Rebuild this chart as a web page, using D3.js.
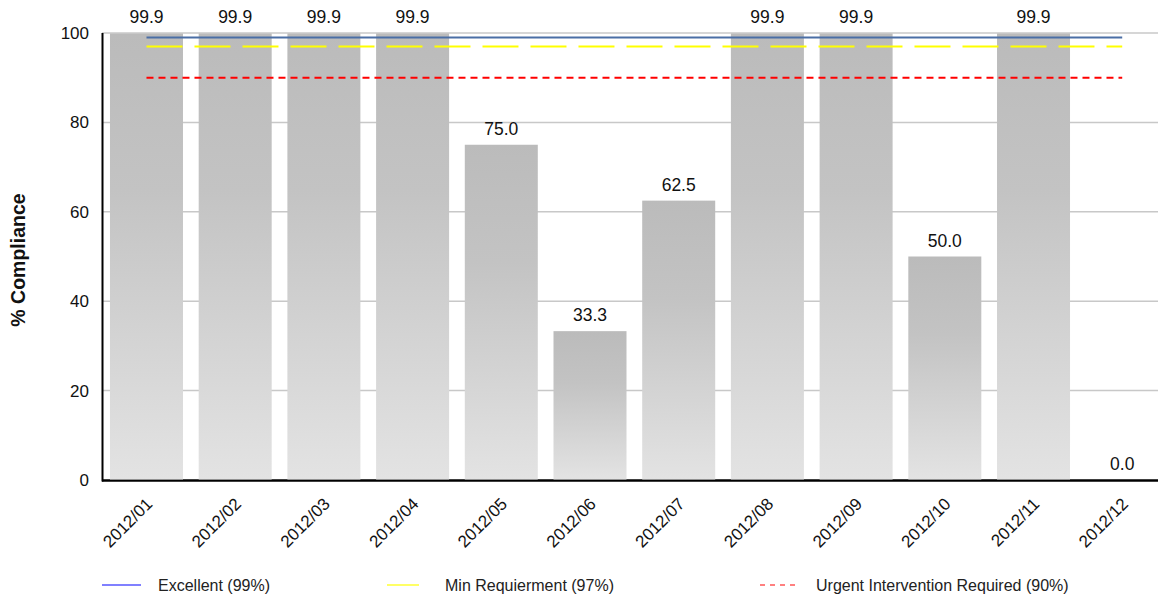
<!DOCTYPE html>
<html>
<head>
<meta charset="utf-8">
<script src="https://cdn.jsdelivr.net/npm/d3@7"></script>
<style>
  html, body { margin: 0; padding: 0; background: #fff; }
  svg { display: block; font-family: "Liberation Sans", Arial, sans-serif; }
</style>
</head>
<body>
<svg id="chart" width="1158" height="600"></svg>
<script>
const months = ["2012/01","2012/02","2012/03","2012/04","2012/05","2012/06","2012/07","2012/08","2012/09","2012/10","2012/11","2012/12"];
const compliance = [99.9, 99.9, 99.9, 99.9, 75.0, 33.3, 62.5, 99.9, 99.9, 50.0, 99.9, 0.0];
const yTicks = [0, 20, 40, 60, 80, 100];
const thresholdNames = ["Excellent (99%)", "Min Requierment (97%)", "Urgent Intervention Required (90%)"];
const thresholdValues = [99, 97, 90];

(function () {
const svg = d3.select("#chart");
const W = 1158;
const pLeft = 102, pBottom = 480, pTop = 33;

const x = d3.scaleBand().domain(months).range([pLeft, 1166.7]).paddingInner(0.177).paddingOuter(0.09);
const y = d3.scaleLinear().domain([0, 100]).range([pBottom, pTop]);

// gradient
const defs = svg.append("defs");
const grad = defs.append("linearGradient").attr("id", "barGrad").attr("x1", 0).attr("y1", 0).attr("x2", 0).attr("y2", 1);
grad.append("stop").attr("offset", "0%").attr("stop-color", "#bbbbbb");
grad.append("stop").attr("offset", "35%").attr("stop-color", "#c3c3c3");
grad.append("stop").attr("offset", "100%").attr("stop-color", "#e3e3e3");

// grid
svg.append("g").selectAll("line").data(yTicks.filter(d => d > 0)).join("line")
  .attr("x1", pLeft).attr("x2", W)
  .attr("y1", d => y(d)).attr("y2", d => y(d))
  .attr("stroke", "#c8c8c8").attr("stroke-width", 1.5);

// y tick labels
svg.append("g").selectAll("text").data(yTicks).join("text")
  .attr("x", 89).attr("y", d => y(d))
  .attr("dy", "0.35em")
  .attr("text-anchor", "end")
  .attr("font-size", 17).attr("fill", "#111")
  .text(d => d);

// baseline axis
svg.append("line").attr("x1", pLeft).attr("x2", W).attr("y1", pBottom + 0.5).attr("y2", pBottom + 0.5)
  .attr("stroke", "#000").attr("stroke-width", 2.5);

// bars
svg.append("g").selectAll("rect").data(compliance).join("rect")
  .attr("x", (d, i) => x(months[i]))
  .attr("width", x.bandwidth())
  .attr("y", d => y(d))
  .attr("height", d => Math.max(0, y(0) - y(d) - 0.5))
  .attr("fill", "url(#barGrad)");

// left axis
svg.append("line").attr("x1", pLeft + 0.5).attr("x2", pLeft + 0.5).attr("y1", pTop).attr("y2", pBottom + 1.5)
  .attr("stroke", "#000").attr("stroke-width", 2);

// value labels
svg.append("g").selectAll("text").data(compliance).join("text")
  .attr("x", (d, i) => x(months[i]) + x.bandwidth() / 2)
  .attr("y", d => y(d) - 10)
  .attr("text-anchor", "middle")
  .attr("font-size", 17.5).attr("fill", "#111")
  .text(d => d.toFixed(1));

// threshold lines
const xs = x(months[0]) + x.bandwidth() / 2;
const xe = x(months[months.length - 1]) + x.bandwidth() / 2;
const lineStyles = [
  { color: "#4a6ea5", dash: null },
  { color: "#ffff00", dash: "36,12" },
  { color: "#ff0000", dash: "7,5" }
];
svg.append("g").selectAll("line").data(thresholdValues).join("line")
  .attr("x1", xs).attr("x2", xe)
  .attr("y1", d => y(d)).attr("y2", d => y(d))
  .attr("stroke", (d, i) => lineStyles[i].color)
  .attr("stroke-width", 2)
  .attr("stroke-dasharray", (d, i) => lineStyles[i].dash);

// x labels
svg.append("g").selectAll("text").data(months).join("text")
  .attr("transform", d => `translate(${x(d) + x.bandwidth() / 2 + 7},${pBottom + 25}) rotate(-45)`)
  .attr("text-anchor", "end")
  .attr("font-size", 17).attr("fill", "#111")
  .text(d => d);

// y title
svg.append("text")
  .attr("transform", "translate(25,260) rotate(-90)")
  .attr("text-anchor", "middle")
  .attr("font-size", 19.5).attr("font-weight", "bold").attr("fill", "#111")
  .text("% Compliance");

// legend
const legendPos = [
  { x1: 102, x2: 141, tx: 158, color: "#8080ff", dash: null },
  { x1: 387, x2: 419, tx: 445, color: "#ffff66", dash: null },
  { x1: 760, x2: 797, tx: 816, color: "#ff8080", dash: "5,5" }
];
const lg = svg.append("g").selectAll("g").data(thresholdNames).join("g");
lg.append("line")
  .attr("x1", (d, i) => legendPos[i].x1).attr("x2", (d, i) => legendPos[i].x2)
  .attr("y1", 585).attr("y2", 585)
  .attr("stroke", (d, i) => legendPos[i].color).attr("stroke-width", 2)
  .attr("stroke-dasharray", (d, i) => legendPos[i].dash);
lg.append("text")
  .attr("x", (d, i) => legendPos[i].tx).attr("y", 585).attr("dy", "0.35em")
  .attr("font-size", 16).attr("fill", "#222")
  .text(d => d);
})();
</script>
</body>
</html>
